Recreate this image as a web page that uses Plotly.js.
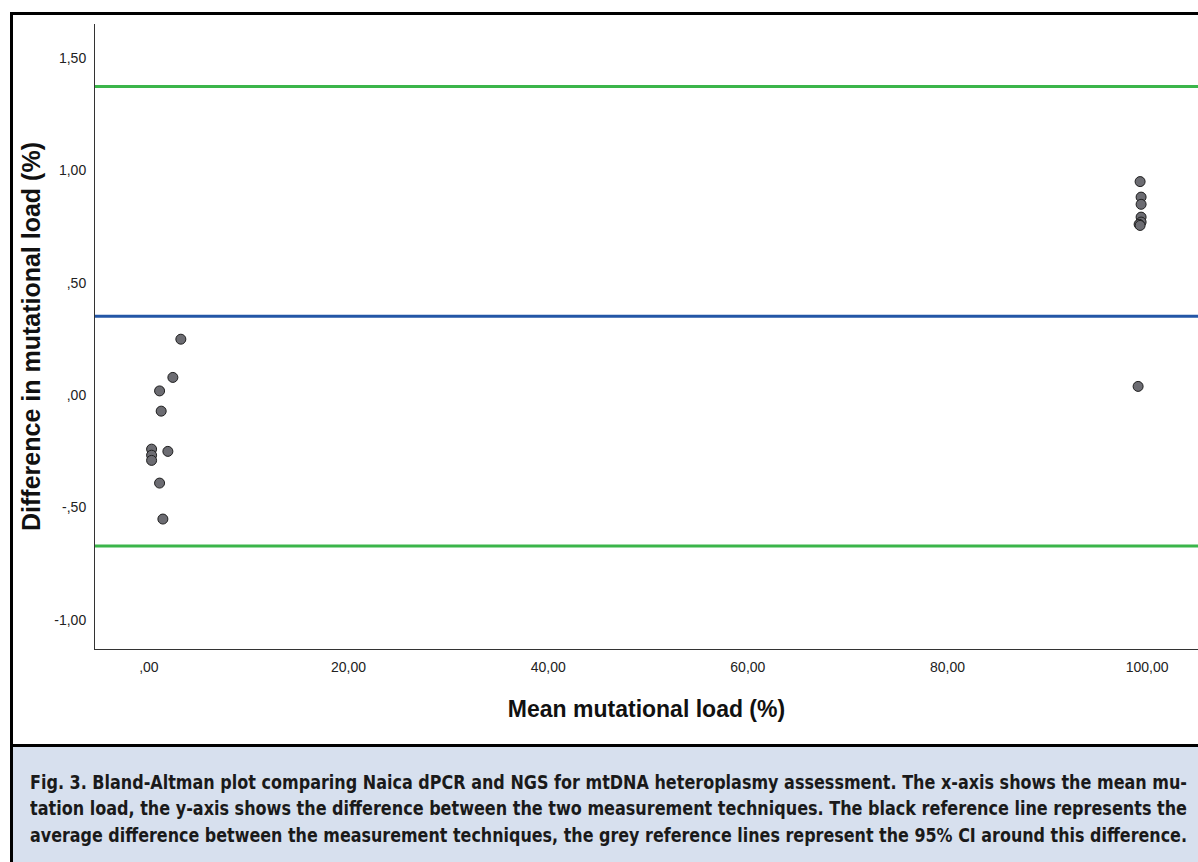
<!DOCTYPE html>
<html>
<head>
<meta charset="utf-8">
<script src="https://cdn.plot.ly/plotly-3.0.1.min.js"></script>
<style>
  html, body { margin:0; padding:0; background:#ffffff; }
  #wrap { position:relative; width:1198px; height:862px; overflow:hidden; background:#fff; }
  #chart { position:absolute; left:0; top:0; width:1198px; height:862px; }
  .bar { position:absolute; background:#000; }
  #caption { position:absolute; left:13px; top:747px; width:1185px; height:115px; background:#d7e0ee; }
  .cl { position:absolute; left:17px; font-family:"DejaVu Sans Condensed","Noto Sans",sans-serif; font-weight:bold; font-size:20px; color:#1a1a1a; white-space:nowrap; line-height:22px; transform-origin:0 50%; }
  .cl b { font-weight:900; }
</style>
</head>
<body>
<div id="wrap">
  <div class="bar" style="left:10px;top:12px;width:3px;height:850px;"></div>
  <div class="bar" style="left:10px;top:12px;width:1188px;height:3px;"></div>
  <div class="bar" style="left:10px;top:744px;width:1188px;height:3px;"></div>
  <div id="caption">
    <div class="cl" style="top:24px;"><b>Fig. 3.</b> Bland-Altman plot comparing Naica dPCR and NGS for mtDNA heteroplasmy assessment. The x-axis shows the mean mu-</div>
    <div class="cl" style="top:50px;">tation load, the y-axis shows the difference between the two measurement techniques. The black reference line represents the</div>
    <div class="cl" style="top:77px;">average difference between the measurement techniques, the grey reference lines represent the 95% CI around this difference.</div>
  </div>
  <div id="chart"></div>
</div>
<script>
// Mean of the two methods (x) and difference (y)
const meanLoad = [3.2, 2.4, 1.07, 1.23, 0.27, 0.27, 0.27, 1.9, 1.07, 1.4,
                  99.3, 99.4, 99.4, 99.4, 99.4, 99.2, 99.3, 99.1];
const diffLoad = [0.249, 0.079, 0.019, -0.071, -0.240, -0.267, -0.290, -0.250, -0.391, -0.551,
                  0.950, 0.881, 0.849, 0.792, 0.770, 0.760, 0.755, 0.039];

const meanDiff = 0.351;
const upperLimit = 1.373;
const lowerLimit = -0.671;

const xTickVals = [0, 20, 40, 60, 80, 100];
const xTickText = [",00", "20,00", "40,00", "60,00", "80,00", "100,00"];
const yTickVals = [-1, -0.5, 0, 0.5, 1, 1.5];
const yTickText = ["-1,00", "-,50", ",00", ",50", "1,00", "1,50"];

// fit caption lines to the full justified width
const captionWidth = 1157;
document.querySelectorAll('.cl').forEach(function (el) {
  const w = el.getBoundingClientRect().width;
  if (w > 0) el.style.transform = 'scaleX(' + (captionWidth / w) + ')';
});

const trace = {
  x: meanLoad, y: diffLoad, type: 'scatter', mode: 'markers',
  marker: { size: 10, color: '#6c6c72', line: { color: '#1e1e1e', width: 1 } },
  hoverinfo: 'x+y', showlegend: false
};

function hline(v, color) {
  return { type: 'line', xref: 'paper', x0: 0, x1: 1, yref: 'y', y0: v, y1: v,
           line: { color: color, width: 3 }, layer: 'below' };
}

const layout = {
  width: 1198, height: 862,
  paper_bgcolor: 'rgba(0,0,0,0)', plot_bgcolor: 'rgba(0,0,0,0)',
  margin: { l: 95, r: 0, t: 24, b: 213 },
  font: { family: 'Liberation Sans, Arial, sans-serif', color: '#222' },
  xaxis: {
    range: [-5.4, 105.1], showgrid: false, zeroline: false,
    showline: true, linecolor: '#333', linewidth: 1,
    tickvals: xTickVals, ticktext: xTickText, ticks: '',
    ticklabelstandoff: 5,
    tickfont: { size: 14, color: '#222' },
    title: { text: 'Mean mutational load (%)', standoff: 27,
             font: { size: 23, weight: 'bold', color: '#111' } }
  },
  yaxis: {
    range: [-1.129, 1.651], showgrid: false, zeroline: false,
    showline: true, linecolor: '#333', linewidth: 1,
    tickvals: yTickVals, ticktext: yTickText, ticks: '',
    ticklabelstandoff: 5,
    tickfont: { size: 14, color: '#222' },
    title: { text: 'Difference in mutational load (%)', standoff: 6,
             font: { size: 25, weight: 'bold', color: '#111' } }
  },
  shapes: [ hline(upperLimit, '#3bb54a'), hline(meanDiff, '#2356a6'), hline(lowerLimit, '#3bb54a') ]
};

Plotly.newPlot('chart', [trace], layout, { displayModeBar: false, staticPlot: true });
</script>
</body>
</html>
